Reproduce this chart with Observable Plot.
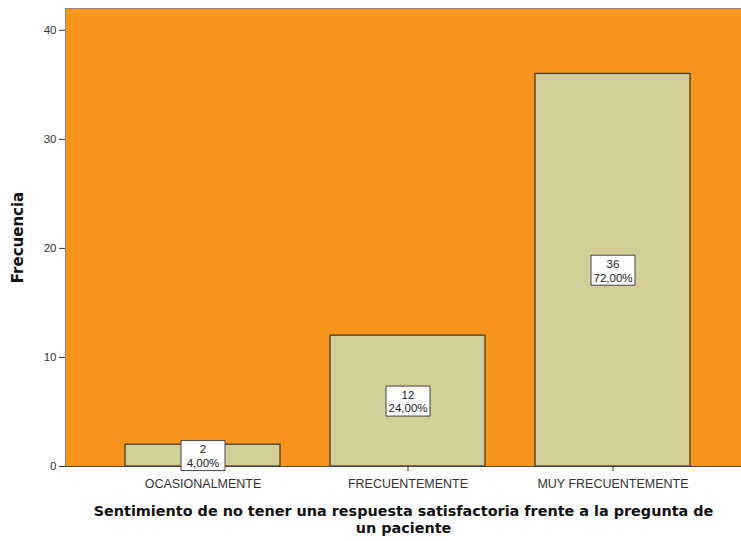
<!DOCTYPE html>
<html>
<head>
<meta charset="utf-8">
<script src="https://cdn.jsdelivr.net/npm/d3@7"></script>
<script src="https://cdn.jsdelivr.net/npm/@observablehq/plot@0.6"></script>
<style>
  html, body { margin: 0; padding: 0; background: #fff; }
</style>
</head>
<body>
<div id="chart"></div>
<script>
const categories = ["OCASIONALMENTE", "FRECUENTEMENTE", "MUY FRECUENTEMENTE"];
const counts = [2, 12, 36];
const percents = ["4,00%", "24,00%", "72,00%"];
const yTicks = [0, 10, 20, 30, 40];
const xTitle = "Sentimiento de no tener una respuesta satisfactoria frente a la pregunta de\nun paciente";
const yTitle = "Frecuencia";

const data = categories.map((c, i) => ({cat: c, n: counts[i], pct: percents[i]}));

const boxSymbol = {
  draw(context, size) {
    context.moveTo(-22, -15);
    context.lineTo(22, -15);
    context.lineTo(22, 15);
    context.lineTo(-22, 15);
    context.closePath();
  }
};

const chart = Plot.plot({
  width: 741,
  height: 541,
  marginTop: 8,
  marginBottom: 75,
  marginLeft: 65,
  marginRight: 0,
  style: {fontFamily: "Liberation Sans, Arial, sans-serif", fontSize: "11px", color: "#333", background: "#fff"},
  x: {domain: categories, range: [99.5, 714.5], paddingInner: 0.244, paddingOuter: 0.122, label: null},
  y: {domain: [0, 42], label: null},
  marks: [
    Plot.frame({fill: "#F7941D", stroke: "#8a7a6c", strokeWidth: 0.8}),
    Plot.barY(data, {x: "cat", y: "n", fill: "#D3CE97", stroke: "#4a3c22", strokeWidth: 1.3}),
    Plot.ruleY([0], {stroke: "#4a4a4a", strokeWidth: 1.2}),
    Plot.axisY({ticks: yTicks, tickSize: 6, tickPadding: 3, label: yTitle, labelAnchor: "center", labelArrow: "none", labelOffset: 53, fontSize: 11.5}),
    Plot.axisX({tickSize: 5, tickPadding: 8, fontSize: 12.5, label: null}),
    Plot.dot(data, {x: "cat", y: d => d.n / 2, symbol: boxSymbol, r: 10, fill: "white", stroke: "#444", strokeWidth: 1}),
    Plot.text(data, {x: "cat", y: d => d.n / 2, text: d => d.n + "\n" + d.pct, fontSize: 11.5, fill: "#222", lineHeight: 1.2}),
    Plot.text([xTitle], {frameAnchor: "bottom", dy: 66, text: d => d, fontSize: 14.4, fontWeight: "bold", fill: "#111", lineHeight: 1.13, fontFamily: "DejaVu Sans"})
  ]
});

// style the y-axis title bold
chart.querySelectorAll("g[aria-label='y-axis label'] text").forEach(t => {
  t.setAttribute("font-weight", "bold");
  t.setAttribute("font-size", "15");
  t.setAttribute("font-family", "DejaVu Sans");
  t.setAttribute("fill", "#111");
});

document.getElementById("chart").appendChild(chart);
</script>
</body>
</html>
